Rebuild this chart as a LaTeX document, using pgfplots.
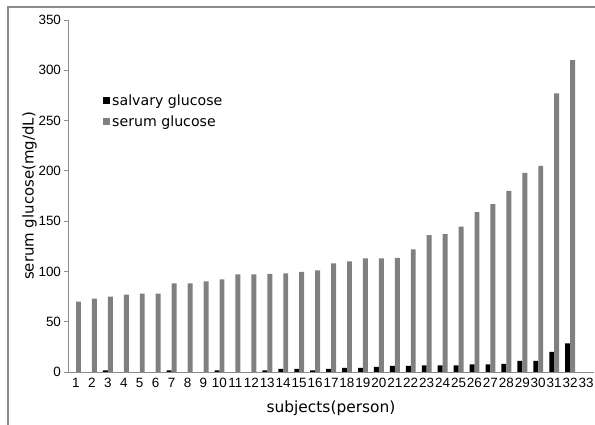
\documentclass[border=0pt]{standalone}
\usepackage{pgfplots}
\pgfplotsset{compat=1.18}
\usepackage{fontspec}
\setmainfont{DejaVu Sans}
\newfontfamily\tickfont{Liberation Sans}
\definecolor{serumgray}{HTML}{808080}
\definecolor{framegray}{HTML}{8C8C8C}
\begin{document}
\begin{tikzpicture}
\path[use as bounding box] (0,0) rectangle (595bp,425bp);
\draw[framegray, line width=1.2bp] (8bp,0) -- (8bp,418bp) -- (595bp,418bp);
\begin{axis}[
  at={(68bp,53bp)}, anchor=south west,
  scale only axis, width=526bp, height=352bp,
  xmin=0.5, xmax=33.5, ymin=0, ymax=350,
  axis x line=bottom, axis y line=left,
  axis line style={-, draw=framegray, line width=0.9bp},
  xtick={1,...,33}, ytick={0,50,...,350},
  x tick style={draw=none},
  y tick style={draw=framegray, line width=0.8bp},
  tick align=outside, major tick length=3.5bp,
  /pgf/number format/assume math mode=true,
  x tick label style={font=\tickfont\fontsize{13.5}{15}\selectfont, yshift=1bp},
  y tick label style={font=\tickfont\fontsize{13.5}{15}\selectfont},
  xlabel={subjects(person)}, ylabel={serum glucose(mg/dL)},
  xlabel style={font=\fontsize{15.5}{17}\selectfont, yshift=-6bp},
  ylabel style={font=\fontsize{15}{17}\selectfont, yshift=-5bp},
  legend style={draw=none, fill=none, at={(0.06,0.80)}, anchor=north west,
    font=\fontsize{14.2}{16}\selectfont, row sep=5bp,
    /tikz/every even column/.append style={column sep=2bp}},
  legend cell align=left,
  legend image code/.code={\fill[#1] (0bp,-3.5bp) rectangle (7.5bp,4bp);},
]
\addplot[ybar, fill=black, draw=none, bar width=0.31, bar shift=-0.15] coordinates {
(1,0) (2,0) (3,1.5) (4,0) (5,0) (6,0) (7,1.5) (8,0) (9,0) (10,1.5)
(11,0) (12,0) (13,1.5) (14,3) (15,3) (16,1.5) (17,3) (18,4) (19,4) (20,5)
(21,6) (22,6) (23,6.5) (24,6.5) (25,6.5) (26,7.5) (27,7.5) (28,8) (29,11) (30,11)
(31,20) (32,28.5)};
\addlegendentry{salvary glucose}
\addplot[ybar, fill=serumgray, draw=none, bar width=0.31, bar shift=0.16] coordinates {
(1,70) (2,73) (3,75) (4,77) (5,78) (6,78) (7,88) (8,88) (9,90) (10,92)
(11,97) (12,97) (13,97.5) (14,98) (15,99.5) (16,101) (17,108) (18,110) (19,113) (20,113)
(21,113.5) (22,122) (23,136) (24,137) (25,144.5) (26,159) (27,167) (28,180) (29,198) (30,205)
(31,277) (32,310)};
\addlegendentry{serum glucose}
\end{axis}
\end{tikzpicture}
\end{document}
